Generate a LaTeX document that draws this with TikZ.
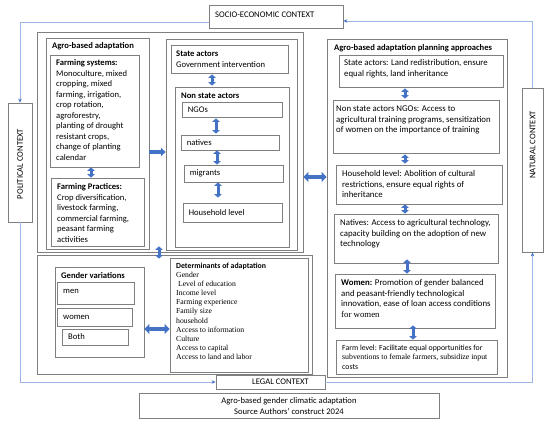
\documentclass[tikz,border=0pt]{standalone}
\usepackage{fontspec}
\setmainfont{Carlito}
\newfontfamily\tnr{Liberation Serif}
\usetikzlibrary{arrows.meta,fit}
\definecolor{boxgray}{HTML}{7F7F7F}
\definecolor{ablue}{HTML}{4472C4}
\definecolor{cblue}{HTML}{9DB5E2}
\definecolor{ctip}{HTML}{4472C4}
\newcommand{\fmain}{\fontsize{8.6}{10.5}\selectfont}
\newcommand{\fright}{\fontsize{8.8}{10.5}\selectfont}
\newcommand{\fsmall}{\fontsize{7.8}{9.5}\selectfont}
\newcommand{\fdet}{\fontsize{7.7}{9.1}\selectfont}
\begin{document}
\begin{tikzpicture}[x=1pt,y=-1pt,
  box/.style={draw=boxgray, line width=0.75pt, inner sep=0pt},
  tx/.style={inner sep=0pt, align=left, anchor=base west, font=\fmain},
  lb/.style={inner sep=0pt, anchor=west, font=\fmain},
  rtx/.style={tx, font=\fright},
  ctx/.style={draw=cblue, line width=0.7pt, -{Stealth[length=4pt,width=3.5pt,color=ctip]}},
  vbi/.style={draw=ablue, line width=3pt, {Triangle[width=7.5pt,length=3.5pt]}-{Triangle[width=7.5pt,length=3.5pt]}},
  bbi/.style={draw=ablue, line width=4pt, {Triangle[width=10pt,length=5pt]}-{Triangle[width=10pt,length=5pt]}},
  bsingle/.style={draw=ablue, line width=3.5pt, -{Triangle[width=8pt,length=4.5pt]}}
]
\path[use as bounding box, fill=white] (0,0) rectangle (550,427);

% context boxes
\node[box, fit={(209,5) (343,28)}] (socio) {};
\node[lb] (socio-t) at (215,15) {SOCIO-ECONOMIC CONTEXT};
\node[box, fit={(8,103) (32,222)}] (political) {};
\node[inner sep=0pt, rotate=90, font=\fmain] (political-t) at (20,164) {POLITICAL CONTEXT};
\node[box, fit={(522,88) (543,252)}] (natural) {};
\node[inner sep=0pt, rotate=90, font=\fmain] (natural-t) at (532.5,145) {NATURAL CONTEXT};
\node[box, fit={(216,375) (325,389)}] (legal) {};
\node[lb] (legal-t) at (252,382) {LEGAL CONTEXT};
\node[box, fit={(139,393) (439,418)}] (caption) {};
\node[inner sep=0pt, align=center, font=\fontsize{8.6}{11}\selectfont] (caption-t) at (289,406.5) {Agro-based gender climatic adaptation\\Source Authors’ construct 2024};

% left outer group
\node[box, fit={(37,32) (303,252)}] (outer) {};
\node[box, fit={(46,38) (149,249)}] (agro) {};
\node[tx] (agro-t) at (52,49) {\textbf{Agro-based adaptation}};
\node[box, fit={(50,55) (139,167)}] (fs) {};
\node[tx] (fs-t) at (56,160.5) {\textbf{Farming systems:}\\Monoculture, mixed\\cropping, mixed\\farming, irrigation,\\crop rotation,\\agroforestry,\\planting of drought\\resistant crops,\\change of planting\\calendar};
\node[box, fit={(51,178) (144,246)}] (fp) {};
\node[tx] (fp-t) at (57,242.5) {\textbf{Farming Practices:}\\Crop diversification,\\livestock farming,\\commercial farming,\\peasant farming\\activities};

\node[box, fit={(166,39) (297,250)}] (middle) {};
\node[box, fit={(171,45) (288,73)}] (sa) {};
\node[tx] (sa-t) at (176,67.5) {\textbf{State actors}\\Government intervention};
\node[box, fit={(175,87) (289,247)}] (ns) {};
\node[tx] (ns-t) at (181,99) {\textbf{Non state actors}};
\node[box, fit={(182,102) (282,117)}] (ngo) {};
\node[lb] (ngo-t) at ([xshift=6pt]ngo.west) {NGOs};
\node[box, fit={(181,135) (279,150)}] (nat) {};
\node[lb] (nat-t) at ([xshift=6pt]nat.west) {natives};
\node[box, fit={(184,165) (283,182)}] (mig) {};
\node[lb] (mig-t) at ([xshift=6pt]mig.west) {migrants};
\node[box, fit={(183,203) (282,222)}] (hh) {};
\node[lb] (hh-t) at ([xshift=6pt]hh.west) {Household level};

% lower left group
\node[box, fit={(37,255) (312,374)}] (lower) {};
\node[box, fit={(55,267) (144,357)}] (gv) {};
\node[tx] (gv-t) at (61,279) {\textbf{Gender variations}};
\node[box, fit={(57,282) (134,304)}] (men) {};
\node[lb] (men-t) at (63,291) {men};
\node[box, fit={(57,308) (132,326)}] (women) {};
\node[lb] (women-t) at (63,317) {women};
\node[box, fit={(62,329) (128,345)}] (both) {};
\node[lb] (both-t) at (68,337) {Both};
\node[box, fit={(170,258) (308,372)}] (det) {};
\node[tx, font=\fdet] (det-t) at (176,359.5) {{\fontsize{7.8}{9.1}\selectfont\textbf{Determinants of adaptation}}\\{\tnr Gender}\\{\tnr\ Level of education}\\{\tnr Income level}\\{\tnr Farming experience}\\{\tnr Family size}\\{\tnr household}\\{\tnr Access to information}\\{\tnr Culture}\\{\tnr Access to capital}\\{\tnr Access to land and labor}};

% right group
\node[box, fit={(327,39) (507,377)}] (right) {};
\node[tx] (right-t) at (334,51) {\textbf{Agro-based adaptation planning approaches}};
\node[box, fit={(339,55) (503,87)}] (r1) {};
\node[rtx] (r1-t) at (344,76.5) {State actors: Land redistribution, ensure\\equal rights, land inheritance};
\node[box, fit={(333,100) (499,153)}] (r2) {};
\node[rtx] (r2-t) at (336,133) {Non state actors NGOs: Access to\\agricultural training programs, sensitization\\of women on the importance of training};
\node[box, fit={(336,165) (502,204)}] (r3) {};
\node[rtx] (r3-t) at (342,198) {Household level: Abolition of cultural\\restrictions, ensure equal rights of\\inheritance};
\node[box, fit={(334,214) (498,263)}] (r4) {};
\node[rtx] (r4-t) at (340,247) {Natives: Access to agricultural technology,\\capacity building on the adoption of new\\technology};
\node[box, fit={(335,274) (495,328)}] (r5) {};
\node[rtx] (r5-t) at (341,317.5) {\textbf{Women:} Promotion of gender balanced\\and peasant-friendly technological\\innovation, ease of loan access conditions\\{\tnr for women}};
\node[box, fit={(336,340) (497,374)}] (r6) {};
\node[tx, font=\fsmall] (r6-t) at (342,369.5) {Farm level: Facilitate equal opportunities for\\{\tnr subventions to female farmers, subsidize input}\\costs};

% context cycle
\draw[ctx] ([yshift=-5.5pt]socio.west) -| (political.north);
\draw[ctx] (political.south) |- (legal.west);
\draw[ctx] (legal.east) -| (natural.south);
\draw[ctx] (natural.north) |- ([yshift=-4.5pt]socio.east);

% blue arrows
\draw[vbi] (fs.south -| 91,0) -- (fp.north -| 91,0);
\draw[vbi, shorten <=1pt, shorten >=1pt] (sa.south -| 212,0) -- (ns.north -| 212,0);
\draw[vbi, shorten <=1pt, shorten >=1pt] (ngo.south -| 216,0) -- (nat.north -| 216,0);
\draw[vbi] (nat.south -| 217,0) -- (mig.north -| 217,0);
\draw[vbi, shorten >=5pt] (mig.south -| 218,0) -- (hh.north -| 218,0);
\draw[vbi, shorten <=1pt, shorten >=1pt] (r1.south -| 405,0) -- (r2.north -| 405,0);
\draw[vbi, shorten <=1pt, shorten >=1pt] (r2.south -| 405,0) -- (r3.north -| 405,0);
\draw[vbi] (r3.south -| 405,0) -- (r4.north -| 405,0);
\draw[vbi, shorten <=-4pt] (r4.south -| 407,0) -- (r5.north -| 407,0);
\draw[vbi, shorten <=-3pt] (r5.south -| 413,0) -- (r6.north -| 413,0);
\draw[vbi, shorten <=-6pt, shorten >=-4pt] (outer.south -| 159,0) -- (lower.north -| 159,0);
\draw[bsingle] (agro.east |- 0,152) -- (middle.west |- 0,152);
\draw[bbi] (outer.east |- 0,177) -- (right.west |- 0,177);
\draw[bbi] (gv.east |- 0,329) -- (det.west |- 0,329);
\end{tikzpicture}
\end{document}
